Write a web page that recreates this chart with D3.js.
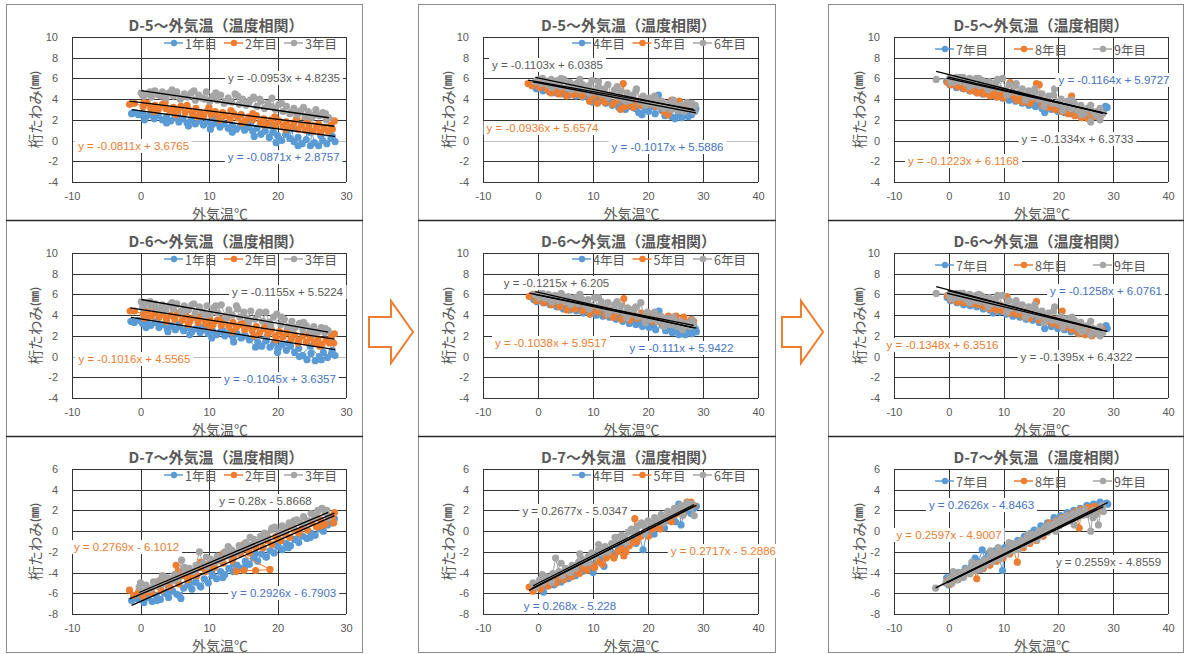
<!DOCTYPE html>
<html>
<head>
<meta charset="utf-8">
<script src="https://cdn.jsdelivr.net/npm/d3@7"></script>
<style>
  body { margin: 0; background: #fff; }
  svg { display: block; }
</style>
</head>
<body>
<svg id="chart" width="1187" height="654"></svg>
<script>
// ---- axis ticks and names ----
const xTicksShort = [-10, 0, 10, 20, 30];
const xTicksLong = [-10, 0, 10, 20, 30, 40];
const yTicksUpper = [-4, -2, 0, 2, 4, 6, 8, 10];
const yTicksLower = [-8, -6, -4, -2, 0, 2, 4, 6];
const titleD5 = "D-5～外気温（温度相関）";
const titleD6 = "D-6～外気温（温度相関）";
const titleD7 = "D-7～外気温（温度相関）";
const yearsA = ["1年目", "2年目", "3年目"];
const yearsB = ["4年目", "5年目", "6年目"];
const yearsC = ["7年目", "8年目", "9年目"];

// ---- measurements: [外気温 ℃, 桁たわみ mm], warming season then cooling season ----
// D-5, years 1-3
const d5Y1 = [[-1.3,2.6],[-0.9,2.7],[-0.3,2.5],[0.3,2.6],[0.8,2.3],[1.4,2.5],[2.0,2.1],[2.6,2.4],[3.2,2.0],[3.8,2.3],[4.4,1.9],[5.0,2.2],[5.3,2.6],[5.6,1.8],[6.2,2.1],[6.8,1.7],[7.4,2.0],[8.0,1.6],[8.6,1.9],[9.2,1.5],[9.8,1.8],[10.4,1.5],[10.7,2.2],[11.0,1.7],[11.6,1.3],[12.2,1.6],[12.8,1.2],[13.4,1.5],[14.0,1.1],[14.6,1.4],[15.2,1.0],[15.8,1.3],[16.1,1.7],[16.4,0.9],[17.0,1.2],[17.6,0.6],[18.2,0.9],[18.8,0.3],[19.0,1.5],[19.4,0.8],[20.0,0.5],[20.6,0.0],[21.2,0.6],[21.8,0.2],[22.1,1.2],[22.4,-0.1],[23.0,0.3],[23.6,-0.3],[24.2,0.1],[24.8,-0.5],[25.0,0.9],[25.4,-0.2],[26.0,-0.5],[26.6,0.0],[27.2,-0.3],[27.8,0.2],[28.4,-0.1],
  [28.0,0.4],[26.3,0.5],[24.6,0.8],[23.0,-0.5],[21.4,1.0],[19.8,-0.2],[18.2,1.3],[16.6,0.4],[15.0,1.6],[13.4,0.8],[11.8,1.9],[10.2,1.1],[8.6,2.2],[7.0,1.4],[5.4,2.5],[3.8,1.7],[2.2,2.7],[0.6,2.0]];
const d5Y2 = [[-1.6,3.5],[-0.9,3.6],[0.4,3.3],[1.0,3.6],[1.5,3.1],[2.1,3.4],[2.6,3.0],[3.2,3.5],[3.7,3.1],[4.3,2.8],[4.8,3.2],[5.4,2.9],[5.9,3.3],[6.5,2.7],[7.0,3.0],[7.6,2.6],[8.1,3.1],[8.7,2.7],[9.2,2.4],[9.8,2.9],[10.3,2.5],[10.9,2.8],[11.4,2.3],[12.0,2.7],[12.5,2.4],[13.1,2.1],[13.6,2.6],[14.2,2.2],[14.7,2.5],[15.3,1.9],[15.8,2.3],[16.4,2.0],[16.9,2.4],[17.5,1.8],[18.0,2.1],[18.6,1.6],[19.1,2.0],[19.7,1.5],[20.2,1.9],[20.8,1.4],[21.3,1.8],[21.9,1.3],[22.4,1.7],[23.0,1.1],[23.5,1.5],[24.1,1.0],[24.6,1.4],[25.2,0.9],[25.7,1.3],[26.3,0.8],[26.8,1.2],[27.4,0.9],[28.0,1.1],[28.3,1.9],
  [27.8,1.5],[26.0,1.6],[24.4,1.9],[22.8,2.2],[21.2,1.1],[19.6,2.3],[18.0,1.5],[16.4,2.6],[14.8,1.7],[13.2,2.9],[11.6,2.0],[10.0,3.2],[8.4,2.3],[6.8,3.4],[5.2,2.5],[3.6,3.7],[2.0,2.8],[0.5,3.7]];
const d5Y3 = [[0.1,4.6],[0.5,4.3],[1.0,4.5],[1.6,4.2],[2.1,4.8],[2.6,4.4],[3.2,4.7],[3.7,4.1],[4.2,4.6],[4.8,4.3],[5.3,4.7],[5.8,4.0],[6.4,4.5],[6.9,4.2],[7.4,4.6],[8.0,3.9],[8.5,4.4],[9.0,4.1],[9.6,4.7],[10.1,3.8],[10.6,4.3],[11.2,3.9],[11.7,4.4],[12.2,3.6],[12.8,4.1],[13.3,3.7],[13.8,4.5],[14.4,3.5],[14.9,4.0],[15.4,3.4],[16.0,3.9],[16.5,4.2],[17.0,3.3],[17.6,3.8],[18.1,3.1],[18.6,3.6],[19.2,4.1],[19.7,3.0],[20.2,3.5],[20.8,2.8],[21.3,3.3],[21.8,2.6],[22.4,3.1],[22.9,2.5],[23.4,2.9],[24.0,2.3],[24.5,2.8],[25.0,2.2],[25.6,3.0],[26.1,2.4],[26.6,2.7],[27.1,2.0],[27.5,2.2],
  [27.0,2.6],[25.4,2.5],[23.8,3.2],[22.2,2.8],[20.6,3.6],[19.0,3.3],[17.4,4.0],[15.8,3.6],[14.2,4.3],[12.6,3.8],[11.0,4.6],[9.4,4.0],[7.8,4.8],[6.2,4.2],[4.6,4.9],[3.0,4.3],[1.4,4.7],[0.3,4.4]];
// D-6, years 1-3
const d6Y1 = [[-1.4,3.4],[-0.9,3.3],[-0.3,3.5],[0.3,3.2],[0.9,3.4],[1.5,3.0],[2.1,3.3],[2.7,2.8],[3.3,3.1],[3.9,2.7],[4.5,3.0],[5.1,2.6],[5.7,2.9],[6.3,2.5],[6.9,2.8],[7.5,2.4],[8.1,2.7],[8.7,2.3],[9.3,2.6],[9.9,2.2],[10.5,2.5],[11.1,2.1],[11.7,2.4],[12.3,2.0],[12.9,2.3],[13.5,1.9],[14.1,2.2],[14.7,1.8],[15.3,2.0],[15.9,1.6],[16.5,1.9],[17.1,1.4],[17.7,1.0],[18.3,1.5],[18.9,0.9],[19.5,1.3],[20.1,0.8],[20.7,1.2],[21.3,0.6],[21.9,1.0],[22.5,0.4],[23.1,0.8],[23.7,0.1],[24.3,-0.3],[24.9,0.3],[25.5,-0.4],[26.1,0.0],[26.7,0.4],[27.3,-0.1],[27.9,0.3],[28.4,0.1],
  [28.0,0.6],[26.4,-0.3],[24.8,1.0],[23.2,0.0],[21.6,1.3],[20.0,0.4],[18.4,1.8],[16.8,0.9],[15.2,2.1],[13.6,1.4],[12.0,2.5],[10.4,1.8],[8.8,2.8],[7.2,2.1],[5.6,3.1],[4.0,2.4],[2.4,3.4],[0.8,2.8]];
const d6Y2 = [[-1.5,4.4],[-0.9,4.4],[0.4,4.1],[1.0,4.4],[1.6,3.9],[2.1,4.3],[2.7,3.8],[3.3,4.2],[3.8,3.7],[4.4,4.0],[5.0,3.6],[5.5,4.1],[6.1,3.5],[6.7,3.9],[7.2,3.4],[7.8,3.8],[8.4,3.3],[8.9,3.7],[9.5,3.2],[10.1,3.6],[10.6,3.1],[11.2,3.5],[11.8,3.0],[12.3,3.4],[12.9,2.9],[13.5,3.3],[14.0,2.8],[14.6,3.1],[15.2,2.6],[15.7,3.0],[16.3,2.5],[16.9,2.9],[17.4,2.3],[18.0,2.7],[18.6,2.2],[19.1,2.6],[19.7,2.0],[20.3,2.4],[20.8,1.9],[21.4,2.3],[22.0,1.7],[22.5,2.1],[23.1,1.6],[23.7,2.0],[24.2,1.4],[24.8,1.8],[25.4,1.3],[25.9,1.7],[26.5,1.2],[27.1,1.6],[27.6,1.3],[28.2,1.3],[28.3,2.2],
  [27.9,2.0],[26.2,1.0],[24.6,2.2],[23.0,1.3],[21.4,2.5],[19.8,1.6],[18.2,2.9],[16.6,2.0],[15.0,3.2],[13.4,2.4],[11.8,3.6],[10.2,2.8],[8.6,3.9],[7.0,3.1],[5.4,4.2],[3.8,3.4],[2.2,4.5],[0.6,3.7]];
const d6Y3 = [[0.1,5.3],[0.5,4.9],[1.0,5.2],[1.6,4.8],[2.1,5.1],[2.6,4.6],[3.2,5.0],[3.7,4.5],[4.3,5.0],[4.8,4.6],[5.3,5.1],[5.9,4.4],[6.4,4.9],[7.0,4.5],[7.5,5.0],[8.0,4.2],[8.6,4.8],[9.1,4.3],[9.7,4.9],[10.2,4.1],[10.7,4.7],[11.3,4.2],[11.8,5.0],[12.4,3.9],[12.9,4.5],[13.4,4.0],[14.0,4.9],[14.5,3.8],[15.1,4.3],[15.6,3.7],[16.1,4.4],[16.7,3.6],[17.2,4.1],[17.8,3.4],[18.3,4.3],[18.8,3.3],[19.4,3.8],[19.9,4.1],[20.5,3.1],[21.0,3.6],[21.5,2.9],[22.1,3.4],[22.6,2.8],[23.2,3.2],[23.7,2.6],[24.2,3.0],[24.8,2.5],[25.3,2.9],[25.9,2.4],[26.4,2.8],[26.9,2.3],[27.4,2.5],
  [27.0,2.7],[25.4,2.2],[23.8,3.3],[22.2,2.6],[20.6,3.8],[19.0,3.0],[17.4,4.3],[15.8,3.4],[14.2,4.6],[12.6,3.7],[11.0,4.9],[9.4,4.0],[7.8,5.1],[6.2,4.3],[4.6,5.2],[3.0,4.5],[1.4,5.3],[0.3,4.7]];
// D-7, years 1-3
const d7Y1 = [[-1.3,-6.7],[-0.7,-6.5],[-0.1,-6.6],[0.5,-6.9],[1.1,-6.4],[1.7,-6.8],[2.3,-6.2],[2.9,-6.6],[3.5,-6.0],[4.1,-6.4],[4.7,-5.8],[5.3,-6.1],[5.9,-6.5],[6.3,-5.5],[6.9,-5.2],[7.5,-5.6],[8.1,-4.9],[8.7,-5.3],[9.3,-4.6],[9.9,-5.0],[10.5,-4.3],[11.1,-4.6],[11.7,-3.9],[12.3,-4.2],[12.9,-3.6],[13.5,-3.9],[14.1,-3.3],[14.7,-3.6],[15.3,-2.9],[15.9,-3.2],[16.5,-2.6],[17.1,-2.9],[17.7,-2.2],[18.3,-2.5],[18.9,-1.9],[19.5,-2.1],[20.1,-1.5],[20.7,-1.8],[21.3,-1.2],[21.9,-1.4],[22.5,-0.8],[23.1,-1.1],[23.7,-0.5],[24.3,-0.7],[24.9,-0.2],[25.5,-0.4],[26.1,0.2],[26.7,0.0],[27.3,0.6],[27.9,0.9],[28.3,1.2],
  [28.0,0.8],[26.4,0.5],[24.8,-0.6],[23.2,-0.4],[21.6,-1.6],[20.0,-1.3],[18.4,-2.5],[16.8,-2.2],[15.2,-3.5],[13.6,-3.2],[12.0,-4.5],[10.4,-4.0],[8.8,-5.4],[7.2,-5.0],[5.6,-6.2],[4.0,-5.8],[2.4,-6.7],[0.8,-6.3]];
const d7Y2 = [[-1.6,-5.7],[-1.0,-6.2],[-0.3,-5.9],[0.4,-6.3],[1.0,-5.7],[1.7,-6.0],[2.3,-5.3],[3.0,-5.7],[3.6,-5.0],[4.3,-5.4],[4.9,-4.6],[5.2,-3.3],[5.6,-5.1],[6.2,-4.3],[6.9,-4.7],[7.5,-3.9],[8.2,-4.3],[8.8,-3.5],[9.5,-3.9],[10.1,-3.1],[10.8,-3.5],[11.4,-2.7],[12.1,-3.1],[12.7,-2.3],[13.4,-2.8],[14.0,-3.9],[15.1,-3.8],[16.8,-3.8],[18.9,-3.7],[14.6,-2.2],[15.3,-1.7],[15.9,-2.1],[16.6,-1.4],[17.9,-1.6],[18.5,-0.9],[19.2,-1.3],[19.8,-0.5],[20.5,-0.9],[21.1,-0.2],[21.8,-0.6],[22.4,0.2],[23.1,-0.2],[23.7,0.5],[24.4,0.1],[25.0,0.8],[25.7,0.4],[26.3,1.1],[27.0,0.7],[27.6,1.4],[28.2,0.8],[28.3,1.8],
  [28.0,1.3],[26.4,0.5],[24.8,0.9],[23.2,0.0],[21.6,0.4],[20.0,-0.7],[18.4,-0.4],[16.8,-1.6],[15.2,-1.2],[13.6,-2.5],[12.0,-2.2],[10.4,-3.4],[8.8,-3.0],[7.2,-4.3],[5.6,-3.9],[4.0,-5.2],[2.4,-4.9],[0.8,-5.9]];
const d7Y3 = [[-0.2,-5.4],[0.3,-5.8],[0.8,-5.2],[1.3,-5.6],[1.9,-4.9],[2.4,-5.3],[2.9,-4.7],[3.4,-5.1],[4.0,-4.5],[4.5,-4.8],[5.0,-4.2],[5.5,-4.6],[6.0,-2.8],[6.5,-4.0],[7.1,-3.6],[7.6,-3.9],[8.1,-3.3],[8.6,-2.0],[9.1,-3.1],[9.7,-3.4],[10.2,-2.7],[10.7,-3.0],[11.2,-2.4],[11.8,-2.7],[12.3,-2.0],[12.8,-2.4],[13.3,-1.8],[13.9,-2.1],[14.4,-1.4],[14.9,-1.7],[15.4,-1.1],[16.0,-1.4],[16.5,-0.8],[17.0,-1.1],[17.5,-0.5],[18.1,-0.2],[18.6,-0.6],[19.1,0.1],[19.6,0.4],[20.2,-0.1],[20.7,0.5],[21.2,0.2],[21.7,0.8],[22.3,0.5],[22.8,1.1],[23.3,0.8],[23.8,1.4],[24.4,1.0],[24.9,1.7],[25.4,1.3],[25.9,2.0],[26.5,2.2],[27.0,1.8],[27.4,1.3],
  [27.2,2.0],[25.6,1.5],[24.0,0.7],[22.4,1.0],[20.8,0.0],[19.2,0.3],[17.6,-0.9],[16.0,-0.6],[14.4,-1.9],[12.8,-1.5],[11.2,-2.9],[9.6,-2.5],[8.0,-3.8],[6.4,-3.5],[4.8,-4.8],[3.2,-4.3],[1.6,-5.5],[0.0,-5.0]];
// D-5, years 4-6
const d5Y4 = [[-0.9,5.3],[-0.3,5.0],[0.3,5.2],[0.9,4.8],[1.5,5.1],[2.1,4.7],[2.7,5.0],[3.3,4.6],[3.9,4.9],[4.5,4.5],[5.1,4.8],[5.7,4.4],[6.3,4.7],[6.9,4.3],[7.5,4.6],[8.1,4.2],[8.7,4.4],[9.3,4.0],[9.9,3.7],[10.5,4.2],[11.1,3.8],[11.7,4.1],[12.3,3.6],[12.9,3.9],[13.5,3.4],[14.1,3.7],[14.7,3.2],[15.3,3.5],[15.9,3.0],[16.5,3.3],[17.1,3.6],[17.7,3.1],[18.3,2.7],[18.9,2.5],[19.5,3.0],[20.1,2.8],[20.7,3.3],[21.3,2.6],[21.9,4.4],[22.5,2.9],[23.1,2.4],[23.7,2.7],[24.3,2.3],[24.9,2.1],[25.5,2.5],[26.1,2.2],[26.7,2.6],[27.3,2.3],[27.9,2.5],[28.5,2.8],[28.7,3.1]];
const d5Y5 = [[-1.8,5.5],[-1.1,5.3],[-0.4,5.6],[0.3,5.1],[1.0,5.4],[1.7,4.9],[2.4,4.6],[3.1,5.0],[3.8,4.5],[4.5,4.9],[5.2,4.3],[5.9,4.7],[6.6,4.4],[7.3,4.8],[8.0,4.3],[8.7,4.6],[9.4,3.8],[10.1,4.3],[10.8,3.6],[11.5,4.2],[12.2,3.7],[12.9,4.4],[13.6,3.5],[14.3,3.9],[15.0,3.0],[15.5,5.5],[15.9,3.3],[16.6,3.6],[17.3,3.2],[18.0,3.8],[18.7,3.4],[19.4,4.0],[20.1,3.5],[20.8,3.9],[21.5,3.3],[22.2,3.7],[22.9,2.8],[23.6,2.5],[24.3,3.9],[25.0,3.2],[25.7,3.8],[26.4,3.0],[27.1,3.6],[27.8,3.3],[28.3,2.9]];
const d5Y6 = [[-0.5,5.7],[0.1,5.9],[0.6,5.5],[1.2,5.8],[1.8,5.4],[2.4,5.9],[2.9,5.3],[3.5,5.8],[4.1,5.2],[4.7,5.9],[5.2,5.1],[5.8,5.6],[6.4,5.0],[7.0,5.5],[7.5,4.9],[8.1,5.4],[8.7,4.8],[9.3,5.3],[9.8,5.8],[10.4,4.7],[11.0,5.2],[11.6,4.5],[12.1,5.0],[12.7,5.4],[13.3,4.4],[13.9,4.9],[14.5,4.2],[15.0,4.8],[15.6,4.0],[16.2,4.6],[16.8,3.9],[17.3,4.4],[17.9,5.0],[18.5,3.8],[19.1,4.3],[19.6,3.6],[20.2,4.1],[20.8,3.5],[21.4,4.0],[22.0,3.3],[22.5,3.8],[23.1,3.2],[23.7,3.6],[24.3,3.0],[24.8,3.5],[25.4,2.9],[26.0,3.4],[26.6,2.8],[27.1,3.7],[27.7,3.1],[28.3,2.8],[28.6,3.4],
  [28.0,3.6],[26.3,2.9],[24.6,3.9],[22.9,3.1],[21.2,4.3],[19.5,3.4],[17.8,4.8],[16.1,3.8],[14.4,5.2],[12.7,4.2],[11.0,5.7],[9.3,4.6],[7.6,5.9],[5.9,4.9],[4.2,6.0],[2.5,5.1],[0.8,6.0]];
// D-6, years 4-6
const d6Y4 = [[-0.8,5.5],[-0.2,5.3],[0.4,5.6],[1.0,5.2],[1.6,5.5],[2.2,5.0],[2.8,5.3],[3.4,4.8],[4.0,5.1],[4.6,4.6],[5.2,4.9],[5.8,4.5],[6.4,4.8],[7.0,4.4],[7.6,4.7],[8.2,4.2],[8.8,4.5],[9.4,4.1],[10.0,4.4],[10.6,4.0],[11.2,4.3],[11.8,3.9],[12.4,4.2],[13.0,3.8],[13.6,4.1],[14.2,3.6],[14.8,3.9],[15.4,3.4],[16.0,3.7],[16.6,3.2],[17.2,3.5],[17.8,3.1],[18.4,3.4],[19.0,2.9],[19.6,3.2],[20.2,2.8],[20.8,3.1],[21.4,2.6],[22.0,4.4],[22.6,3.0],[23.2,2.5],[23.8,2.8],[24.4,2.3],[25.0,2.6],[25.6,2.1],[26.2,2.4],[26.8,2.1],[27.4,2.5],[28.0,2.2],[28.6,2.7],[28.8,2.4]];
const d6Y5 = [[-1.6,5.8],[-0.9,6.0],[-0.3,5.4],[0.4,5.7],[1.1,5.2],[1.8,5.6],[2.5,5.0],[3.2,5.4],[3.9,4.8],[4.6,5.2],[5.3,4.5],[6.0,5.0],[6.7,4.6],[7.4,5.1],[8.1,4.4],[8.8,4.9],[9.5,4.1],[10.2,4.7],[10.9,4.3],[11.6,4.8],[12.3,4.0],[13.0,4.5],[13.7,3.8],[14.4,4.3],[15.1,3.6],[15.6,5.6],[16.0,4.1],[16.7,3.5],[17.4,4.0],[18.1,3.7],[18.8,4.2],[19.5,3.5],[20.2,4.0],[20.9,3.4],[21.6,3.9],[22.3,3.3],[23.0,3.7],[23.7,3.9],[24.4,3.3],[25.1,3.9],[25.8,3.4],[26.5,3.8],[27.2,3.3],[27.9,3.6],[28.3,3.4]];
const d6Y6 = [[-0.5,6.0],[0.1,5.7],[0.7,6.1],[1.3,5.6],[1.9,6.0],[2.5,5.5],[3.1,5.9],[3.7,5.4],[4.3,6.0],[4.9,5.3],[5.5,5.8],[6.1,5.2],[6.7,5.7],[7.3,5.1],[7.9,5.6],[8.5,5.0],[9.1,5.5],[9.7,4.9],[10.3,5.7],[10.9,4.8],[11.5,5.3],[12.1,4.7],[12.7,5.2],[13.3,4.5],[13.9,5.0],[14.5,4.4],[15.1,4.9],[15.7,4.2],[16.3,4.7],[16.9,4.1],[17.5,4.6],[18.1,3.9],[18.7,5.2],[19.3,3.8],[19.9,4.3],[20.5,3.6],[21.1,4.1],[21.7,3.4],[22.3,3.9],[22.9,3.3],[23.5,3.7],[24.1,3.1],[24.7,3.6],[25.3,2.9],[25.9,3.4],[26.5,2.8],[27.1,3.2],[27.7,2.9],[28.3,3.1],
  [28.0,3.5],[26.3,2.6],[24.6,3.8],[22.9,2.9],[21.2,4.3],[19.5,3.3],[17.8,4.8],[16.1,3.7],[14.4,5.3],[12.7,4.1],[11.0,5.7],[9.3,4.6],[7.6,6.0],[5.9,5.0],[4.2,6.1],[2.5,5.3],[0.8,6.1]];
// D-7, years 4-6
const d7Y4 = [[-1.0,-5.6],[-0.4,-5.2],[0.3,-5.5],[1.0,-5.9],[1.6,-5.3],[2.3,-4.9],[2.9,-5.2],[3.6,-4.6],[4.2,-4.9],[4.9,-4.3],[5.5,-4.6],[6.2,-4.0],[6.8,-4.3],[7.5,-3.7],[8.1,-3.9],[8.8,-3.3],[9.4,-3.6],[10.0,-4.0],[10.7,-3.0],[11.3,-2.7],[12.0,-3.4],[12.6,-2.3],[13.3,-2.0],[13.9,-2.4],[14.6,-1.7],[15.2,-1.4],[15.9,-1.8],[16.5,-1.1],[17.2,-0.8],[17.8,-1.2],[18.5,-0.5],[19.1,-1.8],[19.8,-0.2],[20.4,0.1],[21.1,-0.3],[21.7,0.4],[22.4,0.7],[23.0,0.3],[23.7,1.0],[24.3,1.3],[25.0,0.9],[25.6,2.6],[26.0,0.6],[26.6,1.8],[27.2,2.1],[27.8,1.7],[28.4,2.2],[28.8,2.4]];
const d7Y5 = [[-1.6,-5.4],[-0.9,-5.8],[-0.2,-5.3],[0.5,-5.6],[1.2,-5.0],[1.9,-5.3],[2.6,-4.7],[3.3,-5.0],[4.0,-4.4],[4.7,-4.7],[5.4,-4.1],[6.1,-4.4],[6.8,-3.8],[7.5,-4.1],[8.2,-3.5],[8.9,-3.8],[9.6,-3.2],[10.3,-3.5],[11.0,-2.9],[11.7,-3.2],[12.4,-2.6],[13.1,-2.3],[13.8,-2.6],[14.5,-2.0],[15.2,-1.7],[15.6,-2.4],[16.0,-2.0],[16.6,-1.4],[17.3,-1.1],[17.6,1.2],[18.0,-1.0],[18.7,-0.5],[19.4,-0.2],[20.1,-0.5],[20.8,0.2],[21.5,0.5],[22.2,0.2],[22.9,0.9],[23.6,1.2],[24.3,0.9],[25.0,1.6],[25.7,1.9],[26.4,1.6],[27.1,2.8],[27.8,2.8],[28.3,2.5]];
const d7Y6 = [[-0.9,-5.0],[-0.3,-5.3],[0.3,-4.7],[0.9,-5.0],[1.5,-4.4],[2.1,-4.7],[2.7,-4.1],[3.2,-2.6],[3.8,-3.9],[4.4,-4.3],[5.0,-3.6],[5.6,-3.9],[6.2,-3.3],[6.8,-3.6],[7.4,-3.0],[8.0,-2.7],[8.6,-3.1],[9.2,-2.4],[9.8,-2.1],[10.4,-2.5],[11.0,-1.8],[11.6,-2.1],[12.2,-1.5],[12.8,-1.8],[13.4,-1.2],[14.0,-0.6],[14.6,-1.0],[15.2,-0.4],[15.8,-0.7],[16.4,-0.1],[17.0,0.2],[17.6,-0.2],[18.2,0.5],[18.8,0.8],[19.4,0.4],[20.0,1.0],[20.6,0.7],[21.2,1.3],[21.8,1.0],[22.4,1.6],[23.0,1.3],[23.6,1.9],[24.2,1.6],[24.8,2.2],[25.4,1.9],[26.0,2.5],[26.6,2.2],[27.2,2.7],[27.8,2.3],[28.4,1.5],
  [28.0,2.6],[26.3,1.5],[24.6,1.8],[22.9,0.8],[21.2,0.9],[19.5,-0.3],[17.8,0.2],[16.1,-1.1],[14.4,-0.6],[12.7,-2.0],[11.0,-1.3],[9.3,-3.0],[7.6,-2.2],[5.9,-4.0],[4.2,-3.1],[2.5,-4.9],[0.8,-4.2],[-0.6,-5.4]];
// D-5, years 7-9
const d5Y7 = [[-0.4,5.7],[0.2,5.4],[0.8,5.6],[1.4,5.1],[2.0,5.5],[2.6,5.0],[3.2,5.3],[3.8,4.8],[4.4,5.2],[5.0,4.7],[5.6,5.0],[6.2,4.5],[6.8,4.9],[7.4,4.4],[8.0,4.7],[8.6,4.2],[9.2,4.6],[9.8,4.1],[10.4,4.4],[11.0,3.9],[11.6,4.3],[12.2,3.8],[12.8,4.1],[13.4,3.6],[14.0,4.0],[14.6,3.4],[15.2,3.8],[15.8,3.3],[16.4,3.6],[17.0,3.1],[17.5,2.7],[18.1,3.5],[18.7,3.0],[19.3,3.3],[19.9,2.8],[20.5,3.2],[21.1,2.7],[21.7,3.1],[22.3,2.6],[22.9,3.0],[23.5,2.5],[24.1,2.9],[24.7,2.4],[25.3,2.8],[25.9,2.3],[26.5,2.7],[27.1,2.4],[27.7,2.8],[28.3,3.0],[28.6,3.3],[28.9,3.2]];
const d5Y8 = [[-0.2,5.6],[0.4,5.4],[1.0,5.7],[1.6,5.2],[2.2,5.5],[2.8,5.0],[3.4,5.3],[4.0,4.8],[4.6,5.2],[5.2,4.6],[5.8,5.0],[6.4,4.5],[7.0,4.9],[7.6,4.3],[8.2,4.7],[8.8,4.2],[9.4,4.6],[10.0,4.1],[10.6,4.5],[11.2,5.6],[11.8,4.3],[12.4,3.9],[13.0,4.3],[13.6,3.7],[14.2,4.2],[14.8,3.6],[15.4,4.0],[16.0,5.5],[16.5,5.4],[17.0,3.4],[17.6,3.8],[18.2,3.2],[18.8,3.6],[19.4,3.0],[20.0,3.5],[20.6,2.8],[21.2,3.3],[21.8,2.6],[22.4,4.3],[23.0,2.4],[23.6,2.9],[24.2,2.2],[24.8,2.7],[25.4,2.1],[26.0,2.6],[26.6,2.3],[27.2,2.8],[27.8,2.5]];
const d5Y9 = [[-2.3,5.9],[0.2,6.0],[0.8,5.6],[1.4,6.1],[2.0,5.7],[2.6,6.1],[3.2,5.5],[3.8,6.0],[4.4,5.4],[5.0,6.0],[5.6,5.3],[6.2,5.8],[6.8,5.2],[7.4,5.7],[8.0,5.1],[8.6,5.6],[9.2,5.0],[9.8,6.0],[10.4,4.9],[11.0,5.4],[11.6,4.7],[12.2,5.3],[12.8,4.6],[13.4,5.0],[14.0,4.4],[14.6,4.8],[15.2,4.2],[15.8,4.7],[16.4,4.0],[17.0,4.5],[17.6,3.8],[18.2,4.3],[18.8,3.6],[19.3,5.0],[19.9,3.5],[20.5,4.0],[21.1,3.3],[21.7,3.8],[22.3,3.1],[22.9,3.6],[23.5,2.9],[24.1,3.4],[24.7,2.6],[25.3,3.1],[25.9,1.8],[26.4,2.8],[27.0,2.4],[27.6,3.1],[28.1,2.6],
  [27.6,2.0],[25.9,3.4],[24.2,2.5],[22.5,3.9],[20.8,2.9],[19.1,4.4],[17.4,3.3],[15.7,5.0],[14.0,3.9],[12.3,5.5],[10.6,4.4],[8.9,5.9],[7.2,4.9],[5.5,6.0],[3.8,5.2],[2.1,6.1],[0.4,5.6]];
// D-6, years 7-9
const d6Y7 = [[-0.3,5.7],[0.3,5.4],[0.9,5.8],[1.5,5.2],[2.1,5.6],[2.7,5.0],[3.3,5.4],[3.9,4.9],[4.5,5.3],[5.1,4.8],[5.7,5.2],[6.3,4.6],[6.9,5.0],[7.5,4.5],[8.1,4.2],[8.7,4.7],[9.3,4.3],[9.9,4.6],[10.5,4.1],[11.1,4.4],[11.7,3.9],[12.3,4.3],[12.9,3.8],[13.5,4.1],[14.1,3.6],[14.7,4.0],[15.3,3.5],[15.9,3.8],[16.5,3.3],[17.1,3.6],[17.5,2.7],[18.1,3.4],[18.7,2.9],[19.3,3.2],[19.9,2.7],[20.5,3.1],[21.1,2.6],[21.7,2.9],[22.3,2.4],[22.9,2.8],[23.5,2.3],[24.1,2.7],[24.7,2.2],[25.3,2.6],[25.9,2.1],[26.5,2.5],[27.1,2.2],[27.7,2.6],[28.3,2.8],[28.7,3.0],[28.9,2.7]];
const d6Y8 = [[-0.2,5.9],[0.4,5.5],[1.0,5.9],[1.6,5.3],[2.2,5.8],[2.8,5.2],[3.4,5.7],[4.0,5.1],[4.6,5.6],[5.2,5.0],[5.8,5.9],[6.4,4.8],[7.0,5.4],[7.6,4.6],[8.2,5.2],[8.8,4.5],[9.4,5.0],[10.0,4.4],[10.6,5.8],[11.2,4.2],[11.8,4.7],[12.4,4.1],[13.0,4.6],[13.6,3.9],[14.2,4.4],[14.8,3.7],[15.4,4.2],[16.0,5.3],[16.5,3.5],[17.1,4.0],[17.7,3.4],[18.3,3.8],[18.9,3.2],[19.5,3.6],[20.1,3.0],[20.7,4.4],[21.3,2.8],[21.9,3.3],[22.5,2.6],[23.1,3.1],[23.7,2.2],[24.3,2.9],[24.9,2.1],[25.5,2.6],[26.1,2.0],[26.7,2.5],[27.3,2.2],[27.9,2.7]];
const d6Y9 = [[-2.3,6.1],[0.2,6.0],[0.8,5.6],[1.4,6.1],[2.0,5.7],[2.6,6.1],[3.2,5.5],[3.8,6.0],[4.4,5.4],[5.0,5.9],[5.6,5.3],[6.2,5.8],[6.8,5.2],[7.4,5.7],[8.0,5.1],[8.6,5.6],[9.2,5.0],[9.8,5.9],[10.4,4.9],[11.0,5.4],[11.6,4.7],[12.2,5.2],[12.8,4.5],[13.4,5.0],[14.0,4.3],[14.6,4.8],[15.2,4.1],[15.8,4.6],[16.4,3.9],[17.0,4.4],[17.6,3.7],[18.2,4.2],[18.8,3.5],[19.3,4.8],[19.9,3.4],[20.5,3.9],[21.1,3.2],[21.7,3.7],[22.3,3.0],[22.9,3.5],[23.5,2.8],[24.1,3.3],[24.7,2.5],[25.3,3.0],[25.9,2.1],[26.4,2.7],[27.0,2.4],[27.6,2.9],[28.1,2.3],
  [27.6,2.0],[25.9,3.4],[24.2,2.4],[22.5,3.8],[20.8,2.8],[19.1,4.4],[17.4,3.3],[15.7,5.0],[14.0,3.8],[12.3,5.4],[10.6,4.3],[8.9,5.9],[7.2,4.8],[5.5,6.0],[3.8,5.2],[2.1,6.1],[0.4,5.6]];
// D-7, years 7-9
const d7Y7 = [[-0.4,-4.5],[0.0,-5.2],[0.6,-4.3],[1.2,-4.6],[1.8,-4.0],[2.4,-4.3],[3.0,-3.6],[3.6,-3.9],[4.2,-3.3],[4.8,-2.6],[5.4,-3.0],[6.1,-1.8],[6.6,-2.7],[7.2,-2.2],[7.8,-2.5],[8.4,-1.9],[9.0,-2.2],[9.8,-3.8],[10.2,-1.6],[10.8,-1.9],[11.4,-1.2],[12.0,-1.5],[12.6,-0.9],[13.2,-1.1],[13.8,-0.5],[14.4,-0.8],[15.0,-0.2],[15.6,0.1],[16.2,-0.2],[16.8,0.5],[17.4,0.2],[18.0,0.8],[18.6,0.5],[19.2,1.3],[19.8,0.9],[20.4,1.5],[21.0,1.2],[21.6,1.8],[22.2,1.5],[22.8,2.0],[23.4,1.7],[24.0,2.2],[24.6,1.9],[25.2,2.5],[25.8,2.3],[26.4,2.6],[27.0,2.5],[27.6,2.8],[28.2,2.6],[28.8,2.7],[29.0,2.6]];
const d7Y8 = [[-0.3,-4.8],[0.3,-5.1],[0.9,-4.4],[1.5,-4.7],[2.1,-4.1],[2.7,-4.4],[3.3,-3.8],[3.9,-4.1],[4.5,-3.5],[5.1,-4.6],[5.7,-3.2],[6.3,-3.6],[6.9,-3.0],[7.5,-3.3],[8.1,-2.6],[8.7,-2.9],[9.3,-2.2],[9.9,-2.6],[10.5,-1.9],[11.1,-2.2],[11.7,-1.6],[12.5,-3.0],[13.0,-1.3],[13.6,-1.6],[14.2,-0.9],[14.8,-1.2],[15.4,-0.6],[16.0,-0.9],[16.6,-0.2],[17.2,-0.5],[17.8,0.1],[18.4,0.8],[19.0,0.3],[19.6,1.0],[20.2,0.6],[20.8,1.3],[21.4,0.9],[22.0,1.6],[22.6,1.2],[23.2,1.9],[23.8,0.3],[24.2,2.1],[24.8,1.6],[25.4,2.3],[26.0,1.9],[26.6,2.4],[27.2,2.0]];
const d7Y9 = [[-2.4,-5.5],[0.1,-4.6],[0.6,-5.0],[1.1,-4.3],[1.7,-4.7],[2.2,-4.0],[2.7,-4.4],[3.2,-3.7],[3.8,-4.1],[4.3,-3.4],[4.8,-3.8],[5.4,-3.1],[5.9,-3.5],[6.4,-2.8],[6.9,-3.2],[7.5,-2.5],[8.0,-2.9],[8.5,-2.2],[9.0,-1.6],[9.6,-2.4],[10.1,-1.9],[10.6,-2.2],[11.1,-1.5],[11.7,-1.9],[12.2,-1.2],[12.7,-1.6],[13.2,-0.9],[13.8,-1.3],[14.3,-0.6],[14.8,-1.0],[15.3,-0.3],[15.9,-0.7],[16.4,0.0],[16.9,-0.4],[17.4,0.3],[18.0,-0.1],[18.5,0.6],[19.0,0.2],[19.5,0.9],[20.1,0.5],[20.6,1.2],[21.1,0.8],[21.6,1.5],[22.2,1.0],[22.7,1.7],[23.2,1.3],[23.7,1.9],[24.3,1.5],[24.8,2.1],[25.3,1.6],[25.9,0.0],[26.4,2.0],[26.9,1.6],[27.3,0.6],[27.8,2.2],[28.2,1.9],
  [28.0,2.5],[26.3,1.3],[24.6,1.6],[22.9,0.6],[21.2,1.0],[19.5,0.0],[17.8,0.5],[16.1,-0.8],[14.4,-0.3],[12.7,-1.8],[11.0,-1.1],[9.3,-2.7],[7.6,-1.9],[5.9,-3.7],[4.2,-3.0],[2.5,-4.5],[0.8,-3.9],[-0.5,-5.0]];

// ---- linear fits [slope, intercept] per series (blue, orange, grey) ----
const fitD5a = [[-0.0871, 2.8757], [-0.0811, 3.6765], [-0.0953, 4.8235]];
const fitD6a = [[-0.1045, 3.6357], [-0.1016, 4.5565], [-0.1155, 5.5224]];
const fitD7a = [[0.2926, -6.7903], [0.2769, -6.1012], [0.28, -5.8668]];
const fitD5b = [[-0.1017, 5.5886], [-0.0936, 5.6574], [-0.1103, 6.0385]];
const fitD6b = [[-0.111, 5.9422], [-0.1038, 5.9517], [-0.1215, 6.205]];
const fitD7b = [[0.268, -5.228], [0.2717, -5.2886], [0.2677, -5.0347]];
const fitD5c = [[-0.1164, 5.9727], [-0.1223, 6.1168], [-0.1334, 6.3733]];
const fitD6c = [[-0.1258, 6.0761], [-0.1348, 6.3516], [-0.1395, 6.4322]];
const fitD7c = [[0.2626, -4.8463], [0.2597, -4.9007], [0.2559, -4.8559]];

// ---- styling / layout ----
const seriesColors = ["#5B9BD5", "#ED7D31", "#A5A5A5"];
const labelColors = ["#4472C4", "#ED7D31", "#595959"];
const JP = "'Noto Sans CJK JP', 'Noto Sans', sans-serif";
const LAT = "'Liberation Sans', Arial, sans-serif";
const TEXT = "#595959";
const plotH = 145;

const cols = [
  { left: 72, right: 346, xDomain: [-10, 30], xTicks: xTicksShort, boxL: 6, boxR: 362, legendX: 164, legendStep: 60, legendDy: 6, titleShift: 7, yTitleX: 34 },
  { left: 483, right: 758, xDomain: [-10, 40], xTicks: xTicksLong, boxL: 418, boxR: 775, legendX: 572, legendStep: 60.5, legendDy: 6, titleShift: 8, yTitleX: 447 },
  { left: 894, right: 1168, xDomain: [-10, 40], xTicks: xTicksLong, boxL: 828, boxR: 1183, legendX: 935, legendStep: 79, legendDy: 12, titleShift: 10, yTitleX: 858 }
];
const rows = [
  { top: 37, yDomain: [-4, 10], yTicks: yTicksUpper, boxTop: 4, boxBottom: 220 },
  { top: 253, yDomain: [-4, 10], yTicks: yTicksUpper, boxTop: 220, boxBottom: 436 },
  { top: 469, yDomain: [-8, 6], yTicks: yTicksLower, boxTop: 436, boxBottom: 652 }
];

// label anchors are in chart units (℃, mm)
const panels = [
  { col: 0, row: 0, title: titleD5, names: yearsA, series: [d5Y1, d5Y2, d5Y3], fits: fitD5a, labelAt: [[20.9, -1.59], [-1.0, -0.52], [20.95, 6.04]], lightZero: true },
  { col: 0, row: 1, title: titleD6, names: yearsA, series: [d6Y1, d6Y2, d6Y3], fits: fitD6a, labelAt: [[20.36, -2.17], [-0.88, -0.23], [21.46, 6.23]], lightZero: true },
  { col: 0, row: 2, title: titleD7, names: yearsA, series: [d7Y1, d7Y2, d7Y3], fits: fitD7a, labelAt: [[20.9, -5.97], [-2.04, -1.53], [18.25, 2.91]] },
  { col: 1, row: 0, title: titleD5, names: yearsB, series: [d5Y4, d5Y5, d5Y6], fits: fitD5b, labelAt: [[23.55, -0.62], [0.82, 1.21], [1.73, 7.3]], lightZero: true },
  { col: 1, row: 1, title: titleD6, names: yearsB, series: [d6Y4, d6Y5, d6Y6], fits: fitD6b, labelAt: [[26.09, 0.83], [2.36, 1.31], [3.36, 7.1]] },
  { col: 1, row: 2, title: titleD7, names: yearsB, series: [d7Y4, d7Y5, d7Y6], fits: fitD7b, labelAt: [[5.8, -7.23], [33.7, -1.92], [6.73, 1.94]] },
  { col: 2, row: 0, title: titleD5, names: yearsC, series: [d5Y7, d5Y8, d5Y9], fits: fitD5c, labelAt: [[30.15, 5.85], [2.68, -1.97], [23.49, 0.15]] },
  { col: 2, row: 1, title: titleD6, names: yearsC, series: [d6Y7, d6Y8, d6Y9], fits: fitD6c, labelAt: [[28.69, 6.33], [-1.15, 1.12], [23.3, -0.04]] },
  { col: 2, row: 2, title: titleD7, names: yearsC, series: [d7Y7, d7Y8, d7Y9], fits: fitD7c, labelAt: [[5.97, 2.52], [0.04, -0.37], [29.14, -2.98]] }
];

const svg = d3.select("#chart");
svg.append("rect").attr("width", 1187).attr("height", 654).attr("fill", "#fff");

function equation(f) {
  const [m, b] = f;
  return "y = " + m + "x " + (b < 0 ? "- " : "+ ") + Math.abs(b);
}

panels.forEach(p => {
  const c = cols[p.col], r = rows[p.row];
  const x = d3.scaleLinear().domain(c.xDomain).range([c.left, c.right]);
  const y = d3.scaleLinear().domain(r.yDomain).range([r.top + plotH, r.top]);
  const g = svg.append("g");

  // chart frame
  g.append("rect")
    .attr("x", c.boxL + 0.5).attr("y", r.boxTop + 0.5)
    .attr("width", c.boxR - c.boxL).attr("height", r.boxBottom - r.boxTop)
    .attr("fill", "#fff").attr("stroke", "#8c8c8c");

  // gridlines
  g.append("g").selectAll("line").data(r.yTicks).join("line")
    .attr("x1", c.left).attr("x2", c.right)
    .attr("y1", d => Math.round(y(d)) + 0.5).attr("y2", d => Math.round(y(d)) + 0.5)
    .attr("stroke", d => (d === 0 && p.lightZero) ? "#bfbfbf" : "#333")
    .attr("stroke-width", 1);
  g.append("g").selectAll("line").data(c.xTicks).join("line")
    .attr("x1", d => Math.round(x(d)) + 0.5).attr("x2", d => Math.round(x(d)) + 0.5)
    .attr("y1", r.top).attr("y2", r.top + plotH)
    .attr("stroke", "#333").attr("stroke-width", 1);

  // axes
  const ay = g.append("g").attr("transform", `translate(${c.left},0)`)
    .call(d3.axisLeft(y).tickValues(r.yTicks).tickSize(0).tickPadding(14).tickFormat(d => String(d)));
  const ax = g.append("g").attr("transform", `translate(0,${r.top + plotH})`)
    .call(d3.axisBottom(x).tickValues(c.xTicks).tickSize(0).tickPadding(10).tickFormat(d => String(d)));
  [ay, ax].forEach(a => {
    a.select(".domain").remove();
    a.attr("font-family", LAT).attr("font-size", 11);
    a.selectAll("text").attr("fill", TEXT);
  });

  // measurement series
  const line = d3.line().x(d => x(d[0])).y(d => y(d[1]));
  p.series.forEach((pts, i) => {
    const s = g.append("g");
    s.append("path").datum(pts).attr("d", line)
      .attr("fill", "none").attr("stroke", seriesColors[i]).attr("stroke-width", 1);
    s.selectAll("circle").data(pts).join("circle")
      .attr("cx", d => x(d[0])).attr("cy", d => y(d[1])).attr("r", 3.6)
      .attr("fill", seriesColors[i]);
  });

  // linear trendlines over each series' temperature range
  p.fits.forEach((f, i) => {
    const [x0, x1] = d3.extent(p.series[i], d => d[0]);
    g.append("line")
      .attr("x1", x(x0)).attr("y1", y(f[0] * x0 + f[1]))
      .attr("x2", x(x1)).attr("y2", y(f[0] * x1 + f[1]))
      .attr("stroke", "#000").attr("stroke-width", 1.3);
  });

  // trendline equations
  p.fits.forEach((f, i) => {
    const [lx, ly] = p.labelAt[i];
    const lg = g.append("g");
    const t = lg.append("text")
      .attr("x", x(lx)).attr("y", y(ly))
      .attr("text-anchor", "middle").attr("dominant-baseline", "central")
      .attr("font-family", LAT).attr("font-size", 11.5)
      .attr("fill", labelColors[i]).text(equation(f));
    const bb = t.node().getBBox();
    lg.insert("rect", "text")
      .attr("x", bb.x - 3).attr("y", bb.y - 1)
      .attr("width", bb.width + 6).attr("height", bb.height + 2)
      .attr("fill", "#fff");
  });

  // legend
  const legY = r.top + c.legendDy;
  p.names.forEach((name, i) => {
    const lx = c.legendX + i * c.legendStep;
    const lg = g.append("g");
    lg.append("line").attr("x1", lx).attr("x2", lx + 19).attr("y1", legY).attr("y2", legY)
      .attr("stroke", seriesColors[i]).attr("stroke-width", 1.5);
    lg.append("circle").attr("cx", lx + 10).attr("cy", legY).attr("r", 3.2).attr("fill", seriesColors[i]);
    lg.append("text").attr("x", lx + 21).attr("y", legY)
      .attr("dominant-baseline", "central")
      .attr("font-family", JP).attr("font-size", 12.5)
      .attr("fill", TEXT).text(name);
  });

  // chart title
  const cx = (c.left + c.right) / 2;
  g.append("text")
    .attr("x", cx + c.titleShift).attr("y", r.top - 13)
    .attr("text-anchor", "middle").attr("dominant-baseline", "central")
    .attr("font-family", JP).attr("font-size", 15).attr("font-weight", "bold")
    .attr("fill", TEXT).text(p.title);

  // axis titles
  g.append("text")
    .attr("x", cx + 11).attr("y", r.top + plotH + 31)
    .attr("text-anchor", "middle").attr("dominant-baseline", "central")
    .attr("font-family", JP).attr("font-size", 14)
    .attr("fill", TEXT).text("外気温℃");
  const yt = g.append("text")
    .attr("transform", `translate(${c.yTitleX},${r.top + plotH / 2}) rotate(-90)`)
    .attr("text-anchor", "middle").attr("dominant-baseline", "central")
    .attr("font-family", JP).attr("fill", TEXT);
  yt.append("tspan").attr("font-size", 14.5).text("桁たわみ");
  yt.append("tspan").attr("font-size", 11).attr("font-weight", "bold").text("(㎜)");
});

// darker seams between stacked charts
cols.forEach(c => {
  [rows[1].boxTop, rows[2].boxTop].forEach(yy => {
    svg.append("line").attr("x1", c.boxL).attr("x2", c.boxR + 1)
      .attr("y1", yy + 0.5).attr("y2", yy + 0.5)
      .attr("stroke", "#2b2b2b").attr("stroke-width", 1.5);
  });
});

// block arrows between the year groups
const arrowMidY = 332;
[[cols[0], cols[1]], [cols[1], cols[2]]].forEach(([a, b]) => {
  const x0 = a.boxR + 7, tip = b.boxL - 5, base = tip - 22;
  const pts = [[x0, arrowMidY - 15], [base, arrowMidY - 15], [base, arrowMidY - 31], [tip, arrowMidY],
               [base, arrowMidY + 31], [base, arrowMidY + 15], [x0, arrowMidY + 15]];
  svg.append("path").attr("d", d3.line()(pts) + "Z")
    .attr("fill", "#fff").attr("stroke", "#ED7D31").attr("stroke-width", 2);
});
</script>
</body>
</html>
